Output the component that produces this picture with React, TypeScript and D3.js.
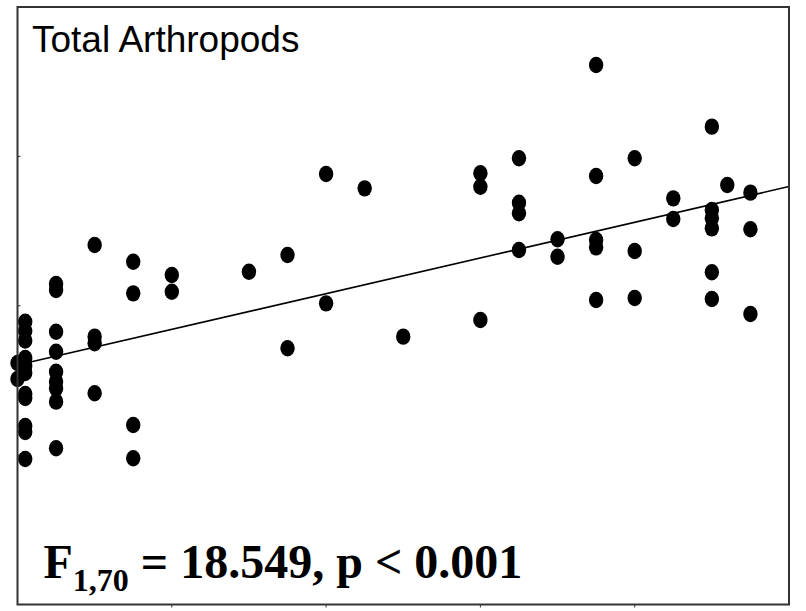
import React from "react";
import * as d3 from "d3";

// Data (x in column units, y in response units)
const xValues: number[] = [
  0, 0,
  0.2, 0.2, 0.2, 0.2, 0.2, 0.2, 0.2, 0.2, 0.2, 0.2, 0.2,
  1, 1, 1, 1, 1, 1, 1, 1, 1,
  2, 2, 2, 2,
  3, 3, 3, 3,
  4, 4,
  6,
  7, 7,
  8, 8,
  9,
  10,
  12, 12, 12,
  13, 13, 13, 13,
  14, 14,
  15, 15, 15, 15, 15,
  16, 16, 16,
  17, 17,
  18, 18, 18, 18, 18, 18,
  18.4,
  19, 19, 19,
];
const yValues: number[] = [
  16.17, 15.1,
  18.93, 18.31, 17.67, 16.5, 15.97, 15.5, 14.09, 13.82, 11.95, 11.55, 9.74,
  21.46, 21.05, 18.26, 16.92, 15.58, 14.92, 14.47, 13.58, 10.46,
  24.07, 17.93, 17.49, 14.14,
  22.95, 20.83, 12.02, 9.79,
  22.06, 20.94,
  22.28,
  23.4, 17.15,
  28.82, 20.16,
  27.86,
  17.93,
  28.87, 27.97, 19.05,
  29.87, 26.9, 26.19, 23.73,
  24.45, 23.28,
  36.12, 28.69, 24.4, 23.91, 20.38,
  29.87, 23.67, 20.52,
  27.19, 25.81,
  31.99, 26.41, 25.85, 25.18, 22.24, 20.45,
  28.08,
  27.57, 25.12, 19.45,
];

const xDomain: [number, number] = [0, 20];
const yDomain: [number, number] = [0, 40];
const xTicks: number[] = [0, 4, 8, 12, 16, 20];
const yTicks: number[] = [0, 10, 20, 30, 40];

const fitIntercept = 16.03;
const fitSlope = 0.5975;

const title = "Total Arthropods";
const statMain = "F";
const statSub = "1,70";
const statRest = " = 18.549, p < 0.001";

export default function App() {
  const W = 806;
  const H = 611;
  const left = 17.5;
  const right = 789;
  const top = 7;
  const bottom = 604.5;

  const x = d3.scaleLinear().domain(xDomain).range([left, right]);
  const y = d3.scaleLinear().domain(yDomain).range([bottom, top]);

  const fitLine = d3
    .line<number>()
    .x((d) => x(d))
    .y((d) => y(fitIntercept + fitSlope * d));

  const points = xValues.map((xv, i) => ({ xv, yv: yValues[i] }));

  return (
    <div style={{ position: "absolute", left: 0, top: 0 }}>
      <svg width={W} height={H} style={{ display: "block", background: "#fff" }}>
        <rect x={0} y={0} width={W} height={H} fill="#fff" />
        {/* ticks */}
        {xTicks.slice(1, -1).map((t) => (
          <line key={"xt" + t} x1={x(t)} x2={x(t)} y1={bottom} y2={bottom + 3} stroke="#333" strokeWidth={1} />
        ))}
        {yTicks.slice(1, -1).map((t) => (
          <line key={"yt" + t} x1={left} x2={left + 3} y1={y(t)} y2={y(t)} stroke="#333" strokeWidth={1} />
        ))}
        {/* regression line */}
        <path d={fitLine(xDomain) || ""} fill="none" stroke="#000" strokeWidth={1.6} />
        {/* points */}
        {points.map((p, i) => (
          <ellipse key={i} cx={x(p.xv)} cy={y(p.yv)} rx={7.2} ry={8.2} fill="#000" />
        ))}
        {/* frame */}
        <rect
          x={left}
          y={top}
          width={right - left}
          height={bottom - top}
          fill="none"
          stroke="#333"
          strokeWidth={2}
        />
        <text
          x={32}
          y={52.3}
          fontFamily="'Liberation Sans', Arial, sans-serif"
          fontSize={37}
          fill="#000"
        >
          {title}
        </text>
        <text
          x={43.5}
          y={578.3}
          fontFamily="'Liberation Serif', 'Times New Roman', serif"
          fontWeight="bold"
          fontSize={48}
          fill="#000"
        >
          <tspan>{statMain}</tspan>
          <tspan fontSize={32} dy={13}>{statSub}</tspan>
          <tspan dy={-13} style={{ whiteSpace: "pre" }}>{statRest}</tspan>
        </text>
      </svg>
    </div>
  );
}
